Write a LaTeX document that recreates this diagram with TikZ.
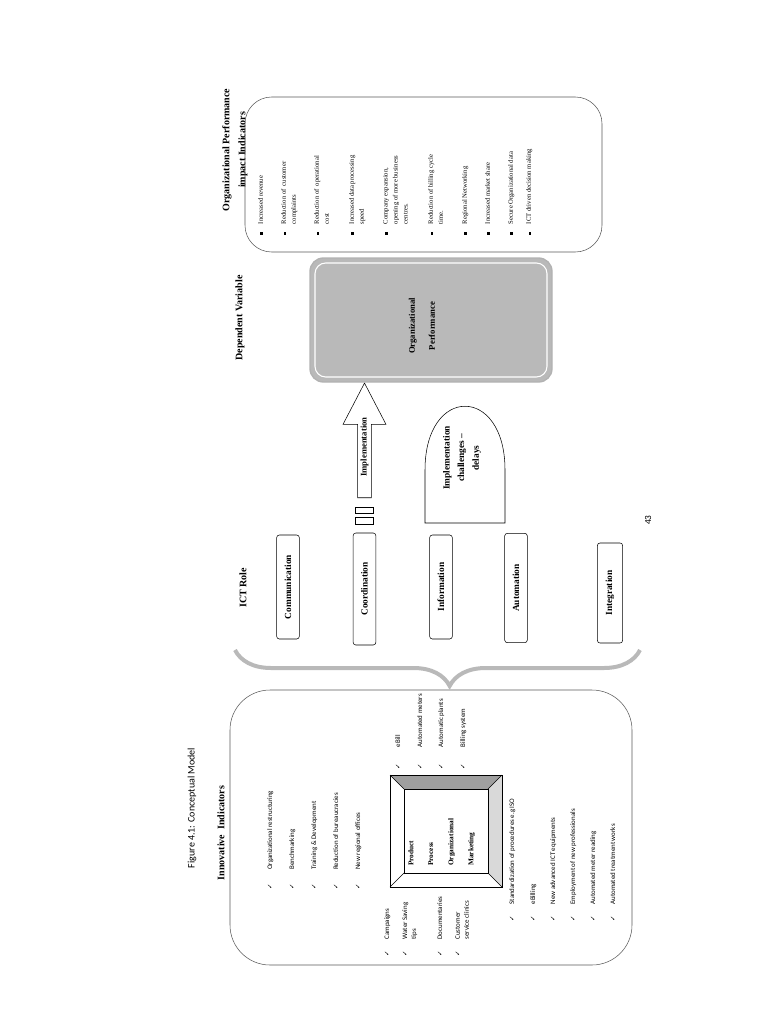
\documentclass[tikz,border=0pt]{standalone}
\usepackage{fontspec}
\setmainfont{Liberation Serif}
\newfontfamily\calfont{Carlito}
\newfontfamily\symfont{DejaVu Sans}
\usetikzlibrary{shapes.arrows}
\usetikzlibrary{decorations.pathreplacing}
\newcommand*\chk{{\symfont\fontsize{5}{5}\selectfont ✓}}
\newcommand*\blt{\rule{1.8pt}{1.8pt}}

\begin{document}
\begin{tikzpicture}
    [%
        x=0.75pt,y=-0.75pt,%
        up text/.style={%
            rotate=90,%
            anchor=north west,%
            inner sep=0pt,%
            align=left%
        },%
        small item/.style={%
            up text,%
            font=\calfont\fontsize{5.2}{6.8}\selectfont%
        },%
        impact item/.style={%
            up text,%
            font=\fontsize{5}{7.5}\selectfont%
        },%
        heading/.style={%
            rotate=90,%
            align=center,%
            inner sep=0pt,%
            font=\bfseries\fontsize{7.5}{12}\selectfont%
        },%
        role box/.style={%
            draw,%
            rounded corners=2pt,%
            rotate=90,%
            minimum width=78pt,%
            minimum height=17pt,%
            font=\bfseries\fontsize{7}{8}\selectfont%
        },%
        frame word/.style={%
            up text,%
            font=\bfseries\fontsize{5.5}{6}\selectfont%
        }%
    ]%
    \useasboundingbox (0,0) rectangle (768,1024);
%
    % headings
    \node[rotate=90, font=\calfont\fontsize{7.5}{9}\selectfont] (fig-title) at (192,808) {Figure 4.1: Conceptual Model};
    \node[heading] (innov-title) at (221,833) {Innovative\ \ Indicators};
    \node[heading] (ict-title) at (243,588) {ICT Role};
    \node[heading] (dep-title) at (240,318) {Dependent Variable};
    \node[heading] (impact-title) at (235,150) {Organizational Performance\\impact Indicators};
%
    % innovative indicators
    \draw[gray!70!black, rounded corners=30pt] (230,690) rectangle (632,965);
    \foreach \x/\t in {%
        267/Organizational restructuring,%
        289/Benchmarking,%
        311/Training \& Development,%
        333/Reduction of bureaucracies,%
        355/New regional offices%
    }%
        \node[small item] at (\x,890) {\makebox[15pt][l]{\chk}\t};
    \foreach \x/\t in {%
        384/Campaigns,%
        402/{Water Saving\\\hspace*{13pt}tips},%
        437/Documentaries,%
        455/{Customer\\\hspace*{13pt}service clinics}%
    }%
        \node[small item] at (\x,957) {\makebox[13pt][l]{\chk}\t};
    \foreach \x/\t in {%
        395/eBill,%
        417/Automated meters,%
        438/Automatic plants,%
        460/Billing system%
    }%
        \node[small item] at (\x,770) {\makebox[17pt][l]{\chk}\t};
    \foreach \x/\t in {%
        509/Standardization of procedures e.g ISO,%
        530/eBilling,%
        550/New advanced ICT equipments,%
        570/Employment of new professionals,%
        590/Automated meter reading,%
        610/Automated treatment works%
    }%
        \node[small item] at (\x,922) {\makebox[13pt][l]{\chk}\t};
%
    % bevelled frame
    \coordinate (frame-a) at (390,775);
    \coordinate (frame-b) at (502,775);
    \coordinate (frame-c) at (502,887);
    \coordinate (frame-d) at (390,887);
    \coordinate (frame-ia) at (404,789);
    \coordinate (frame-ib) at (488,789);
    \coordinate (frame-ic) at (488,873);
    \coordinate (frame-id) at (404,873);
    \fill[gray!75] (frame-a) -- (frame-b) -- (frame-ib) -- (frame-ia) -- cycle;
    \fill[gray!30] (frame-b) -- (frame-c) -- (frame-ic) -- (frame-ib) -- cycle;
    \draw (frame-a) rectangle (frame-c);
    \draw (frame-ia) rectangle (frame-ic);
    \foreach \o/\i in {a/ia,b/ib,c/ic,d/id}
        \draw (frame-\o) -- (frame-\i);
    \foreach \x/\t in {408/Product,428/Process,448/Organizational,468/Marketing}
        \node[frame word] at (\x,866) {\t};
%
    % brace towards the ICT roles
    \draw[gray!55, line width=3pt, decorate, decoration={brace, amplitude=27pt, aspect=0.47}]
        (640,650) -- (235,650);
%
    % ICT roles
    \node[role box] (communication) at (288,587) {Communication};
    \node[role box, minimum width=84pt] (coordination) at (364.5,589) {Coordination};
    \node[role box] (information) at (441,587) {Information};
    \node[role box, minimum width=82pt] (automation) at (516,588) {Automation};
    \node[role box, minimum width=75pt, minimum height=19pt] (integration) at (610,593) {Integration};
%
    \draw (355,507) rectangle (373,513);
    \draw (355,517) rectangle (373,524);
    \node[single arrow, draw, rotate=90, minimum height=86pt, inner sep=2pt,
        single arrow head extend=11pt, single arrow tip angle=55,
        font=\bfseries\fontsize{6.5}{7}\selectfont] (implementation) at (364.5,447) {Implementation};
%
    % challenges
    \coordinate (chal-bl) at (425,523);
    \coordinate (chal-br) at (505,523);
    \draw (chal-bl) -- (425,470) .. controls (425,385) and (505,385) .. (505,470) -- (chal-br) -- cycle;
    \node[heading, font=\bfseries\fontsize{7}{11}\selectfont] (challenges) at (462,458)
        {Implementation\\challenges --\\delays};
%
    % dependent variable
    \draw[gray!60, fill=gray!55, rounded corners=10pt, line width=1pt] (310,258) rectangle (552,382);
    \draw[white, rounded corners=8pt, line width=0.8pt] (315,263) rectangle (547,377);
    \node[heading, font=\bfseries\fontsize{6.5}{15}\selectfont] (performance) at (422,326)
        {Organizational\\Performance};
%
    % impact indicators
    \draw[gray!70!black, rounded corners=20pt] (245,97) rectangle (602,252);
    \foreach \x/\t in {%
        258/Increased revenue,%
        281/{Reduction of\ \ customer\\\hspace*{8pt}complaints},%
        314/{Reduction of\ \ operational\\\hspace*{8pt}cost},%
        349/{Increased data processing\\\hspace*{8pt}speed},%
        383/{Company expansion,\\\hspace*{8pt}opening of more business\\\hspace*{8pt}centres.},%
        428/{Reduction of billing cycle\\\hspace*{8pt}time.},%
        462/Regional Networking,%
        485/Increased market share,%
        508/Secure Organizational data,%
        526/ICT driven decision making%
    }%
        \node[impact item] at (\x,235) {\makebox[8pt][l]{\blt}\t};
%
    \node[rotate=90, font=\calfont\fontsize{7}{8}\selectfont] (page-number) at (648,520) {43};
\end{tikzpicture}
\end{document}
